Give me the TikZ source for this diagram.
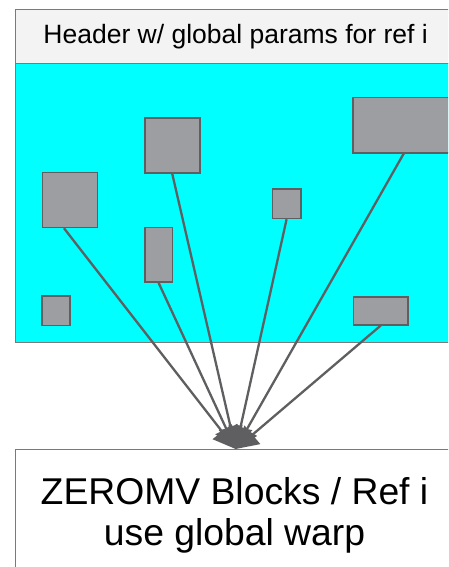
\documentclass[tikz,border=0pt]{standalone}
\usepackage{fontspec}
\setmainfont{Liberation Sans}
\usetikzlibrary{arrows.meta}
\definecolor{frameline}{HTML}{7A7A7A}
\definecolor{headfill}{HTML}{F3F3F3}
\definecolor{areafill}{HTML}{00FFFF}
\definecolor{blockfill}{HTML}{9D9EA2}
\definecolor{blockline}{HTML}{5F5F62}
\definecolor{linkcol}{HTML}{5F5F62}
\begin{document}
\begin{tikzpicture}[x=1pt,y=-1pt,
  panel/.style={draw=frameline, line width=1.3pt, inner sep=0pt, anchor=north west},
  block/.style={draw=blockline, fill=blockfill, line width=1.5pt, inner sep=0pt, anchor=north west},
  link/.style={draw=linkcol, line width=2.3pt, -{Triangle[length=22pt,width=24pt]}}]
\useasboundingbox (0,0) rectangle (448,567);
\clip (0,0) rectangle (448,567);

% frame: header strip, block area, target box
\node[panel, fill=headfill, minimum width=440pt, minimum height=54pt] (head) at (15,9)
  {\fontsize{26.5}{30}\selectfont Header w/ global params for ref i};
\node[panel, fill=areafill, minimum width=440pt, minimum height=279pt] (area) at (15,63) {};
\node[panel, fill=white, minimum width=440pt, minimum height=150pt] (zb) at (15,449) {};
\node[anchor=base, align=center, font=\fontsize{37.3}{41}\selectfont] (zbtext) at (234.5,545)
  {ZEROMV Blocks / Ref i\\use global warp};

% blocks inside the reference area
\node[block, minimum width=55pt, minimum height=55pt] (b1) at (41.7,171.7) {};
\node[block, minimum width=55pt, minimum height=55pt] (b2) at (144,117.3) {};
\node[block, minimum width=27.7pt, minimum height=54.6pt] (b3) at (144,226.7) {};
\node[block, minimum width=28.3pt, minimum height=29.7pt] (b4) at (271.7,188) {};
\node[block, minimum width=102pt, minimum height=55pt] (b5) at (352,97) {};
\node[block, minimum width=28pt, minimum height=29.4pt] (b6) at (41.3,295.3) {};
\node[block, minimum width=54.6pt, minimum height=27.7pt] (b7) at (352.7,296.3) {};

% connectors into the ZEROMV box
\draw[link] ([xshift=-6pt]b1.south) -- (zb.north);
\draw[link] (b2.south) -- (zb.north);
\draw[link] (b3.south) -- (zb.north);
\draw[link] (b4.south) -- (zb.north);
\draw[link] (b5.south) -- (zb.north);
\draw[link] (b7.south) -- (zb.north);
\end{tikzpicture}
\end{document}
